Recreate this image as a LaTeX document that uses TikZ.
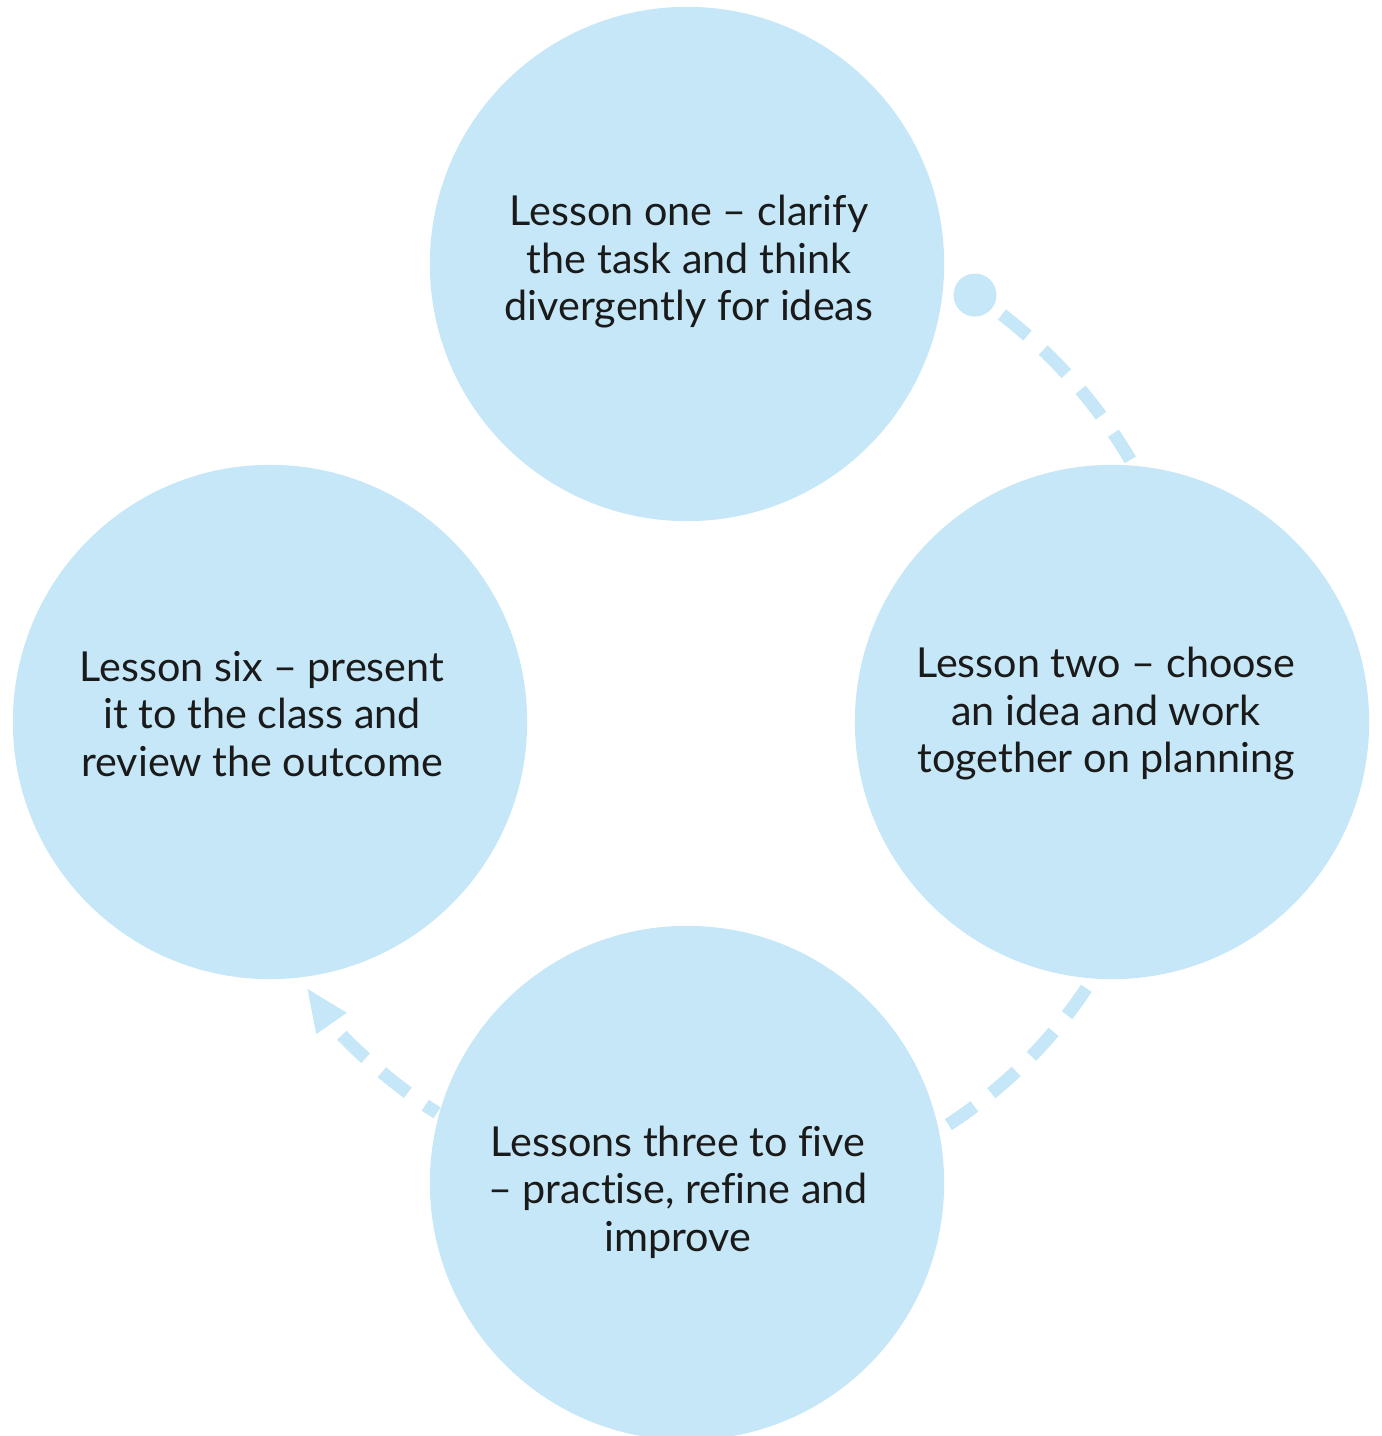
\documentclass[tikz,border=0pt]{standalone}
\usepackage{fontspec}
\setmainfont{Lato}[Ligatures = {TeX, NoCommon}]
\usetikzlibrary{arrows.meta,calc}
\definecolor{skyblue}{HTML}{C5E7F7}
\definecolor{ink}{HTML}{1A1A1A}

\begin{document}
\begin{tikzpicture}[x = 0.01cm, y = 0.01cm,
                    lesson/.style = {circle, fill = skyblue, minimum size = 5.14cm, inner sep = 0pt},
                    note/.style = {align = center, text = ink, inner sep = 0pt,
                                   font = \fontsize{11.75}{13.5}\selectfont},
                    flow/.style = {draw = skyblue, line width = 3.7pt, dash pattern = on 9.4pt off 6.1pt},
                    dot/.style = {circle, fill = skyblue, minimum size = 0.43cm, inner sep = 0pt}]
  \useasboundingbox (0, 0) rectangle (1381, 1436);
  \coordinate (hub) at (687, 714);

  % the four lessons round the cycle
  \node [lesson] (L1) at (687, 1172) {};
  \node [lesson] (L2) at (1112, 714) {};
  \node [lesson] (L35) at (687, 253) {};
  \node [lesson] (L6) at (270, 714) {};

  \node [note] (T1) at (689, 1174) {Lesson one – clarify\\the task and think\\divergently for ideas};
  \node [note] (T2) at (1106, 722) {Lesson two – choose\\an idea and work\\together on planning};
  \node [note] (T35) at (678, 244) {Lessons three to five\\– practise, refine and\\improve};
  \node [note] (T6) at (262, 722) {Lesson six – present\\it to the class and\\review the outcome};

  % dashed arcs between them
  \node [dot] (D1) at ($(hub)+(56:515)$) {};
  \coordinate (A1) at ($(hub)+(52.3:515)$);
  \coordinate (A2) at ($(hub)+(-33.7:480)$);
  \coordinate (A3) at ($(hub)+(237.4:464)$);

  \draw [flow] (A1) arc [start angle = 52.3, end angle = 30.6, radius = 5.15cm];
  \draw [flow] (A2) arc [start angle = -33.7, end angle = -57, radius = 4.8cm];
  \draw [flow, dash phase = 5.4pt, -{Triangle[length = 12.5pt, width = 9.5pt]}]
    (A3) arc [start angle = 237.4, end angle = 214.9, radius = 4.64cm];
\end{tikzpicture}
\end{document}
